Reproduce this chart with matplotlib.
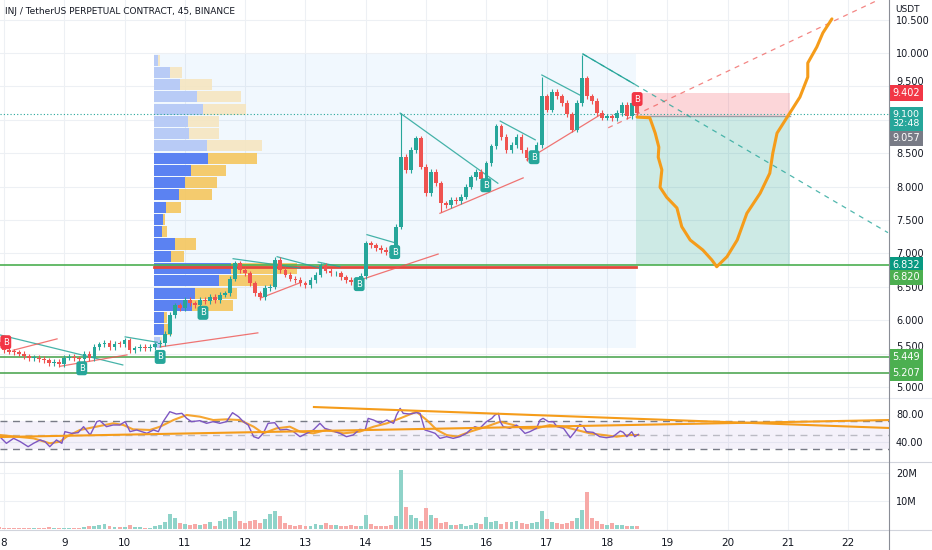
import numpy as np
import matplotlib.pyplot as plt
from matplotlib.patches import Rectangle
from matplotlib.lines import Line2D
from matplotlib.transforms import blended_transform_factory

plt.rcParams['font.family'] = ['DejaVu Sans']

# ---- candles (2h bars), x in days of the month ----
t0 = 7 + 22 / 24
closes = [
    5.62, 5.55, 5.53, 5.52, 5.50, 5.46, 5.43, 5.44, 5.42, 5.40, 5.36, 5.38,
    5.34, 5.44, 5.45, 5.43, 5.42, 5.50, 5.43, 5.60, 5.64, 5.66, 5.60, 5.65,
    5.64, 5.70, 5.55, 5.58, 5.60, 5.58, 5.60, 5.64, 5.66, 5.80, 6.08, 6.22,
    6.18, 6.30, 6.25, 6.22, 6.30, 6.28, 6.35, 6.30, 6.38, 6.40, 6.62, 6.85,
    6.75, 6.70, 6.55, 6.40, 6.34, 6.48, 6.50, 6.90, 6.75, 6.68, 6.62, 6.60,
    6.55, 6.52, 6.60, 6.68, 6.82, 6.74, 6.70, 6.70, 6.64, 6.60, 6.57, 6.55,
    6.66, 7.15, 7.12, 7.08, 7.05, 7.02, 7.00, 7.40, 8.45, 8.25, 8.55, 8.72,
    8.30, 7.90, 8.22, 8.05, 7.75, 7.72, 7.80, 7.78, 7.85, 8.00, 8.14, 8.22,
    8.12, 8.35, 8.60, 8.90, 8.74, 8.55, 8.62, 8.74, 8.55, 8.43, 8.50, 8.62,
    9.35, 9.15, 9.42, 9.35, 9.25, 9.08, 8.85, 9.25, 9.62, 9.35, 9.28, 9.10,
    9.03, 9.05, 9.02, 9.10, 9.22, 9.05, 9.25, 9.10,
]
first_open = 5.67
extra_high = {80: 9.10, 108: 9.64, 116: 9.97}
extra_low = {88: 7.62}
volumes = [
    0.6, 0.5, 0.4, 0.5, 0.4, 0.3, 0.4, 0.5, 0.3, 0.4, 0.6, 0.4,
    0.3, 0.3, 0.3, 0.4, 0.3, 0.8, 1.0, 0.9, 1.6, 1.8, 1.2, 0.8,
    0.6, 0.7, 1.4, 0.8, 0.6, 0.4, 0.5, 0.9, 1.3, 2.6, 5.5, 3.8,
    2.0, 1.8, 1.6, 1.9, 1.4, 1.8, 2.5, 1.2, 2.8, 3.5, 4.2, 6.3,
    3.0, 2.2, 2.8, 3.2, 2.0, 3.6, 5.2, 6.4, 4.8, 2.0, 1.5, 1.2,
    1.4, 1.0, 1.2, 1.8, 1.6, 2.0, 1.5, 1.4, 1.2, 1.0, 1.3, 0.9,
    1.2, 5.0, 1.8, 1.2, 0.9, 1.1, 1.6, 4.5, 21.0, 7.9, 5.0, 4.0,
    3.0, 7.5, 5.0, 3.8, 2.0, 2.5, 1.6, 1.4, 1.8, 1.2, 1.6, 2.2,
    1.8, 4.2, 2.6, 3.0, 1.8, 2.4, 2.6, 2.8, 2.2, 1.8, 2.0, 2.5,
    6.5, 3.5, 2.5, 2.0, 1.8, 2.2, 3.0, 4.0, 6.8, 13.2, 4.0, 2.8,
    1.8, 1.5, 2.2, 1.4, 1.6, 1.0, 1.2, 1.1,
]

# ---- volume profile (24 rows, top to bottom), buy / sell ----
vp_hi, vp_lo = 9.985, 5.58
vp_start, vp_end = 10.49, 18.48
vp_buy = [4, 16, 26, 43, 49, 34, 35, 53, 54, 37, 31, 25, 12, 9, 8, 21, 17, 77, 65, 41, 38, 10, 10, 6]
vp_sell = [2, 12, 32, 44, 43, 31, 30, 55, 49, 35, 32, 33, 15, 2, 5, 21, 13, 66, 54, 42, 41, 3, 8, 2]
vp_value_area = range(8, 23)

# ---- drawings ----
teal_lines = [
    ((7.93, 5.78), (9.97, 5.33)),
    ((10.01, 5.75), (10.54, 5.67)),
    ((11.80, 6.92), (12.91, 6.78)),
    ((12.53, 6.95), (13.24, 6.78)),
    ((13.21, 6.87), (13.57, 6.80)),
    ((14.02, 7.28), (14.48, 7.16)),
    ((14.57, 9.10), (16.19, 8.05)),
    ((16.23, 8.98), (16.81, 8.70)),
    ((16.92, 9.67), (17.55, 9.37)),
]
red_lines = [
    ((8.15, 5.55), (8.88, 5.72)),
    ((8.93, 5.31), (10.04, 5.48)),
    ((10.59, 5.60), (12.21, 5.81)),
    ((12.25, 6.33), (12.91, 6.56)),
    ((13.90, 6.60), (15.20, 6.99)),
    ((15.23, 7.60), (16.61, 8.13)),
    ((16.67, 8.40), (17.88, 9.07)),
]
red_dashed = ((18.02, 8.88), (22.49, 10.79))
teal_main = ((17.60, 9.985), (22.66, 7.31))

buy_marks = [(9.29, 5.28), (10.59, 5.45), (11.30, 6.11), (13.89, 6.54),
             (14.48, 7.02), (15.99, 8.02), (16.79, 8.44)]
sell_marks = [(8.03, 5.67), (18.50, 9.31)]

fc_days = [18.50, 18.71, 18.80, 18.86, 18.85, 18.91, 18.88, 18.99, 19.16, 19.24, 19.38,
           19.59, 19.74, 19.82, 19.99, 20.16, 20.32, 20.54, 20.70, 20.75, 20.82, 21.01,
           21.20, 21.33, 21.33, 21.48, 21.58, 21.73]
fc_price = [9.04, 9.03, 8.80, 8.59, 8.44, 8.25, 7.99, 7.84, 7.68, 7.40, 7.20,
            7.05, 6.90, 6.80, 6.95, 7.20, 7.60, 7.90, 8.20, 8.50, 8.80, 9.07,
            9.34, 9.64, 9.85, 10.09, 10.30, 10.51]

entry, stop, target = 9.057, 9.402, 6.832
pos_start, pos_end = 18.48, 21.03
levels = [5.449, 5.207]
poc = 6.80
last_price = 9.08

# ---- RSI ----
rsi_days = [7.93, 8.04, 8.16, 8.27, 8.40, 8.49, 8.60, 8.68, 8.76, 8.87, 8.96, 9.01, 9.12,
            9.23, 9.32, 9.43, 9.54, 9.59, 9.70, 9.81, 9.92, 10.01, 10.09, 10.20, 10.37,
            10.48, 10.56, 10.64, 10.75, 10.86, 10.95, 11.03, 11.11, 11.25, 11.36, 11.47,
            11.58, 11.69, 11.79, 11.89, 11.97, 12.05, 12.14, 12.22, 12.30, 12.38, 12.49,
            12.58, 12.69, 12.80, 12.91, 13.02, 13.13, 13.24, 13.32, 13.41, 13.57, 13.68,
            13.79, 13.90, 13.99, 14.04, 14.13, 14.24, 14.35, 14.46, 14.51, 14.57, 14.62,
            14.73, 14.84, 14.90, 14.98, 15.07, 15.15, 15.23, 15.34, 15.45, 15.56, 15.67,
            15.73, 15.81, 15.89, 16.00, 16.09, 16.14, 16.20, 16.23, 16.28, 16.39, 16.50,
            16.56, 16.64, 16.72, 16.83, 16.89, 16.94, 17.03, 17.11, 17.17, 17.28, 17.39,
            17.47, 17.55, 17.61, 17.66, 17.77, 17.88, 17.99, 18.10, 18.22, 18.27, 18.33,
            18.41, 18.46, 18.52]
rsi_vals = [47.6, 38.1, 45.2, 40.5, 33.3, 38.1, 42.9, 40.5, 33.3, 42.9, 38.1, 54.8, 52.4,
            53.3, 61.9, 50.0, 69.1, 70.5, 61.9, 64.3, 64.3, 69.1, 54.8, 57.2, 52.4,
            57.2, 54.8, 69.1, 83.3, 80.0, 81.0, 73.8, 69.1, 70.5, 66.7, 69.1,
            66.7, 69.1, 81.9, 76.2, 69.1, 64.3, 47.6, 45.2, 52.4, 66.7, 67.6,
            57.2, 58.1, 54.8, 47.6, 52.4, 57.2, 66.7, 59.5, 57.2, 52.4, 47.6,
            50.0, 58.1, 57.2, 73.8, 71.4, 66.7, 71.4, 66.7, 78.6, 88.1, 81.0,
            80.0, 81.9, 81.0, 57.2, 54.8, 52.4, 45.2, 47.6, 45.2, 47.6, 52.4,
            57.2, 61.9, 59.5, 69.0, 73.8, 78.5, 80.9, 69.0, 61.9, 59.5, 64.2,
            59.5, 52.3, 54.7, 59.5, 71.4, 73.8, 69.0, 69.0, 61.9, 59.5, 46.1,
            54.7, 65.2, 61.9, 54.7, 53.8, 47.6, 46.1, 47.6, 55.7, 53.8, 47.6,
            54.7, 47.6, 50.9]
rsi_ma_days = [7.93, 8.49, 8.76, 8.93, 9.04, 9.26, 9.59, 9.81, 9.98, 10.14, 10.42, 10.59,
               10.81, 11.03, 11.25, 11.47, 11.69, 11.91, 12.14, 12.30, 12.52, 12.74, 12.91,
               13.13, 13.35, 13.63, 13.90, 14.13, 14.35, 14.57, 14.84, 15.01, 15.18, 15.34,
               15.51, 15.73, 16.00, 16.23, 16.45, 16.61, 16.83, 17.05, 17.28, 17.50, 17.72,
               17.94, 18.16, 18.38, 18.52]
rsi_ma_vals = [50.0, 45.2, 38.1, 40.5, 47.6, 57.2, 62.9, 66.7, 64.3, 58.1, 57.2, 61.9,
               71.4, 78.6, 76.2, 71.4, 72.4, 71.4, 61.9, 52.4, 59.5, 61.9, 54.8,
               52.4, 57.2, 52.4, 54.8, 61.9, 66.7, 73.8, 83.3, 71.4, 57.2, 50.0,
               47.6, 54.8, 61.9, 69.0, 64.2, 59.5, 59.5, 64.2, 61.9, 57.1, 52.3,
               50.0, 47.6, 50.0, 50.0]
rsi_trend_a = ((13.14, 90.0), (22.69, 60.0))
rsi_trend_b = ((7.93, 47.1), (22.69, 71.4))

UP, DOWN = '#26a69a', '#ef5350'
ORANGE = '#f59c1a'
GRID = '#edf0f4'
TXT = '#131722'

W, H = 932, 550
fig = plt.figure(figsize=(W / 100, H / 100), dpi=100)
right = 889 / W
ax = fig.add_axes([0, (H - 398) / H, right, 398 / H])
ax_rsi = fig.add_axes([0, (H - 462) / H, right, 64 / H], sharex=ax)
ax_vol = fig.add_axes([0, (H - 530) / H, right, 68 / H], sharex=ax)

for a in (ax, ax_rsi, ax_vol):
    for s in a.spines.values():
        s.set_visible(False)
    a.yaxis.tick_right()
    a.tick_params(axis='y', length=0, pad=5, labelsize=7, colors=TXT)
    a.tick_params(axis='x', length=0)
    a.grid(color=GRID, lw=0.8, zorder=0)
    a.set_axisbelow(True)

ax.set_xlim(7.934, 22.677)
ax.set_xticks(range(8, 23))
ax_vol.set_xticklabels([str(d) for d in range(8, 23)])
ax_vol.tick_params(axis='x', labelsize=7.5, pad=6, colors=TXT)
ax.tick_params(axis='x', labelbottom=False)
ax_rsi.tick_params(axis='x', labelbottom=False)

# main pane; 9.000 is covered by the live price tag, 9.500 / 5.500 peek out above tags
ax.set_ylim(4.835, 10.793)
price_ticks = np.arange(5.0, 10.51, 0.5)
ax.set_yticks(price_ticks)
ax.set_yticklabels(['' if v in (5.5, 9.0, 9.5) else '%.3f' % v for v in price_ticks])
tr = blended_transform_factory(ax.transAxes, ax.transData)
for v, shown_at in ((9.5, 9.57), (5.5, 5.60)):
    ax.text(1 + 7 / 889, shown_at, '%.3f' % v, transform=tr, fontsize=7, color=TXT,
            ha='left', va='center', clip_on=False)

ax.add_patch(Rectangle((vp_start, vp_lo), vp_end - vp_start, vp_hi - vp_lo,
                       fc='#2196f3', alpha=0.06, ec='none', zorder=1))
row_h = (vp_hi - vp_lo) / len(vp_buy)
px = 1 / 60.3
for k, (b, s) in enumerate(zip(vp_buy, vp_sell)):
    yc = vp_hi - (k + 0.5) * row_h
    inside = k in vp_value_area
    cb = '#5b82f2' if inside else '#b8cbf6'
    cs = '#f5c75e' if inside else '#f6e6c0'
    ax.barh(yc, b * px, left=vp_start, height=row_h * 0.9, color=cb, zorder=2)
    ax.barh(yc, s * px, left=vp_start + b * px, height=row_h * 0.9, color=cs, zorder=2, alpha=0.9)

# position tool
ax.add_patch(Rectangle((pos_start, entry), pos_end - pos_start, stop - entry,
                       fc='#f23645', alpha=0.2, ec='none', zorder=1))
ax.add_patch(Rectangle((pos_start, target), pos_end - pos_start, entry - target,
                       fc='#089981', alpha=0.2, ec='none', zorder=1))
ax.plot([pos_start, pos_end], [entry, entry], color='#9e9ea6', lw=1, zorder=3)

# horizontal levels
ax.axhline(target, color='#4caf50', lw=1.2, zorder=3)
ax.plot([vp_start, vp_end], [poc, poc], color='#e4483c', lw=2, zorder=3)
for lv in levels:
    ax.axhline(lv, color='#43a047', lw=1.1, zorder=3)
ax.axhline(last_price, color=UP, lw=0.8, ls=(0, (1, 2)), zorder=3)

# trend lines
for (x1, y1), (x2, y2) in teal_lines:
    ax.plot([x1, x2], [y1, y2], color=UP, lw=0.9, alpha=0.85, zorder=5)
for (x1, y1), (x2, y2) in red_lines:
    ax.plot([x1, x2], [y1, y2], color=DOWN, lw=0.9, alpha=0.8, zorder=5)
(x1, y1), (x2, y2) = red_dashed
ax.plot([x1, x2], [y1, y2], color=DOWN, lw=0.9, alpha=0.7, ls=(0, (4, 4)), zorder=5)
(x1, y1), (x2, y2) = teal_main
ax.plot([x1, x2], [y1, y2], color=UP, lw=0.9, alpha=0.8, ls=(0, (4, 4)), zorder=5)
ax.plot([x1, 18.45], [y1, np.interp(18.45, [x1, x2], [y1, y2])], color=UP, lw=0.9, zorder=5)

# candles
times = t0 + np.arange(len(closes)) / 12
opens = [first_open] + closes[:-1]
cols, lows, highs, bots, hts = [], [], [], [], []
for i, (o, c) in enumerate(zip(opens, closes)):
    cols.append(UP if c >= o else DOWN)
    highs.append(extra_high.get(i, max(o, c) + 0.04))
    lows.append(extra_low.get(i, min(o, c) - 0.04))
    bots.append(min(o, c))
    hts.append(max(abs(c - o), 0.012))
ax.vlines(times, lows, highs, colors=cols, lw=0.8, zorder=6)
ax.bar(times, hts, bottom=bots, width=0.062, color=cols, zorder=6)

# forecast path
ax.plot(fc_days, fc_price, color=ORANGE, lw=2.2, solid_joinstyle='round',
        solid_capstyle='round', zorder=7)

# signal labels
for d, p in buy_marks:
    ax.text(d, p, 'B', color='white', fontsize=6, ha='center', va='center', zorder=8,
            bbox=dict(boxstyle='round,pad=0.3', fc=UP, ec='none'))
for d, p in sell_marks:
    ax.text(d, p, 'B', color='white', fontsize=6, ha='center', va='center', zorder=8,
            bbox=dict(boxstyle='round,pad=0.3', fc='#f23645', ec='none'))

# price tags on the scale
tags = [(stop, '9.402', '#f23645', 7), (9.01, '9.100\n32:48', UP, 6.8),
        (8.72, '9.057', '#787b86', 7),
        (target, '6.832', '#089981', 7), (6.64, '6.820', '#4caf50', 7),
        (5.449, '5.449', '#4caf50', 7), (5.207, '5.207', '#4caf50', 7)]
for y, s, c, fs in tags:
    ax.text(1.004, y, s, transform=tr, color='white', fontsize=fs, ha='left', va='center',
            linespacing=1.0, clip_on=False, zorder=9,
            bbox=dict(boxstyle='square,pad=0.28', fc=c, ec='none'))

# RSI pane
ax_rsi.set_ylim(11.4, 102.9)
ax_rsi.set_yticks([40, 80])
ax_rsi.set_yticklabels(['40.00', '80.00'])
ax_rsi.axhspan(30, 70, color='#7e57c2', alpha=0.08, lw=0)
ax_rsi.axhline(70, color='#787b86', lw=1, ls=(0, (5, 4)))
ax_rsi.axhline(30, color='#787b86', lw=1, ls=(0, (5, 4)))
ax_rsi.axhline(50, color='#9598a1', lw=1, alpha=0.6, ls=(0, (5, 4)))
ax_rsi.plot(rsi_ma_days, rsi_ma_vals, color=ORANGE, lw=1.5, alpha=0.9)
ax_rsi.plot(rsi_days, rsi_vals, color='#7e57c2', lw=1)
for (x1, y1), (x2, y2) in (rsi_trend_a, rsi_trend_b):
    ax_rsi.plot([x1, x2], [y1, y2], color=ORANGE, lw=1.5)

# volume pane
ax_vol.set_ylim(-0.36, 23.9)
ax_vol.set_yticks([10, 20])
ax_vol.set_yticklabels(['10M', '20M'])
vcols = ['#8fd3c9' if c == UP else '#f7a9a7' for c in cols]
ax_vol.bar(times, volumes, width=0.065, color=vcols)

# frame lines and headers
for yy in (398, 462, 530):
    fig.add_artist(Line2D([0, 1], [1 - yy / H] * 2, color='#d1d4dc' if yy > 400 else '#e6e9ef',
                          lw=0.8))
fig.add_artist(Line2D([right, right], [0, 1], color='#8a8d96', lw=0.8))
fig.text(5 / W, 1 - 12 / H, 'INJ / TetherUS PERPETUAL CONTRACT, 45, BINANCE',
         fontsize=6.5, color=TXT, va='center')
fig.text(895 / W, 1 - 10 / H, 'USDT', fontsize=6.5, color=TXT, va='center')

fig.savefig('out.png', dpi=100, facecolor='white')
